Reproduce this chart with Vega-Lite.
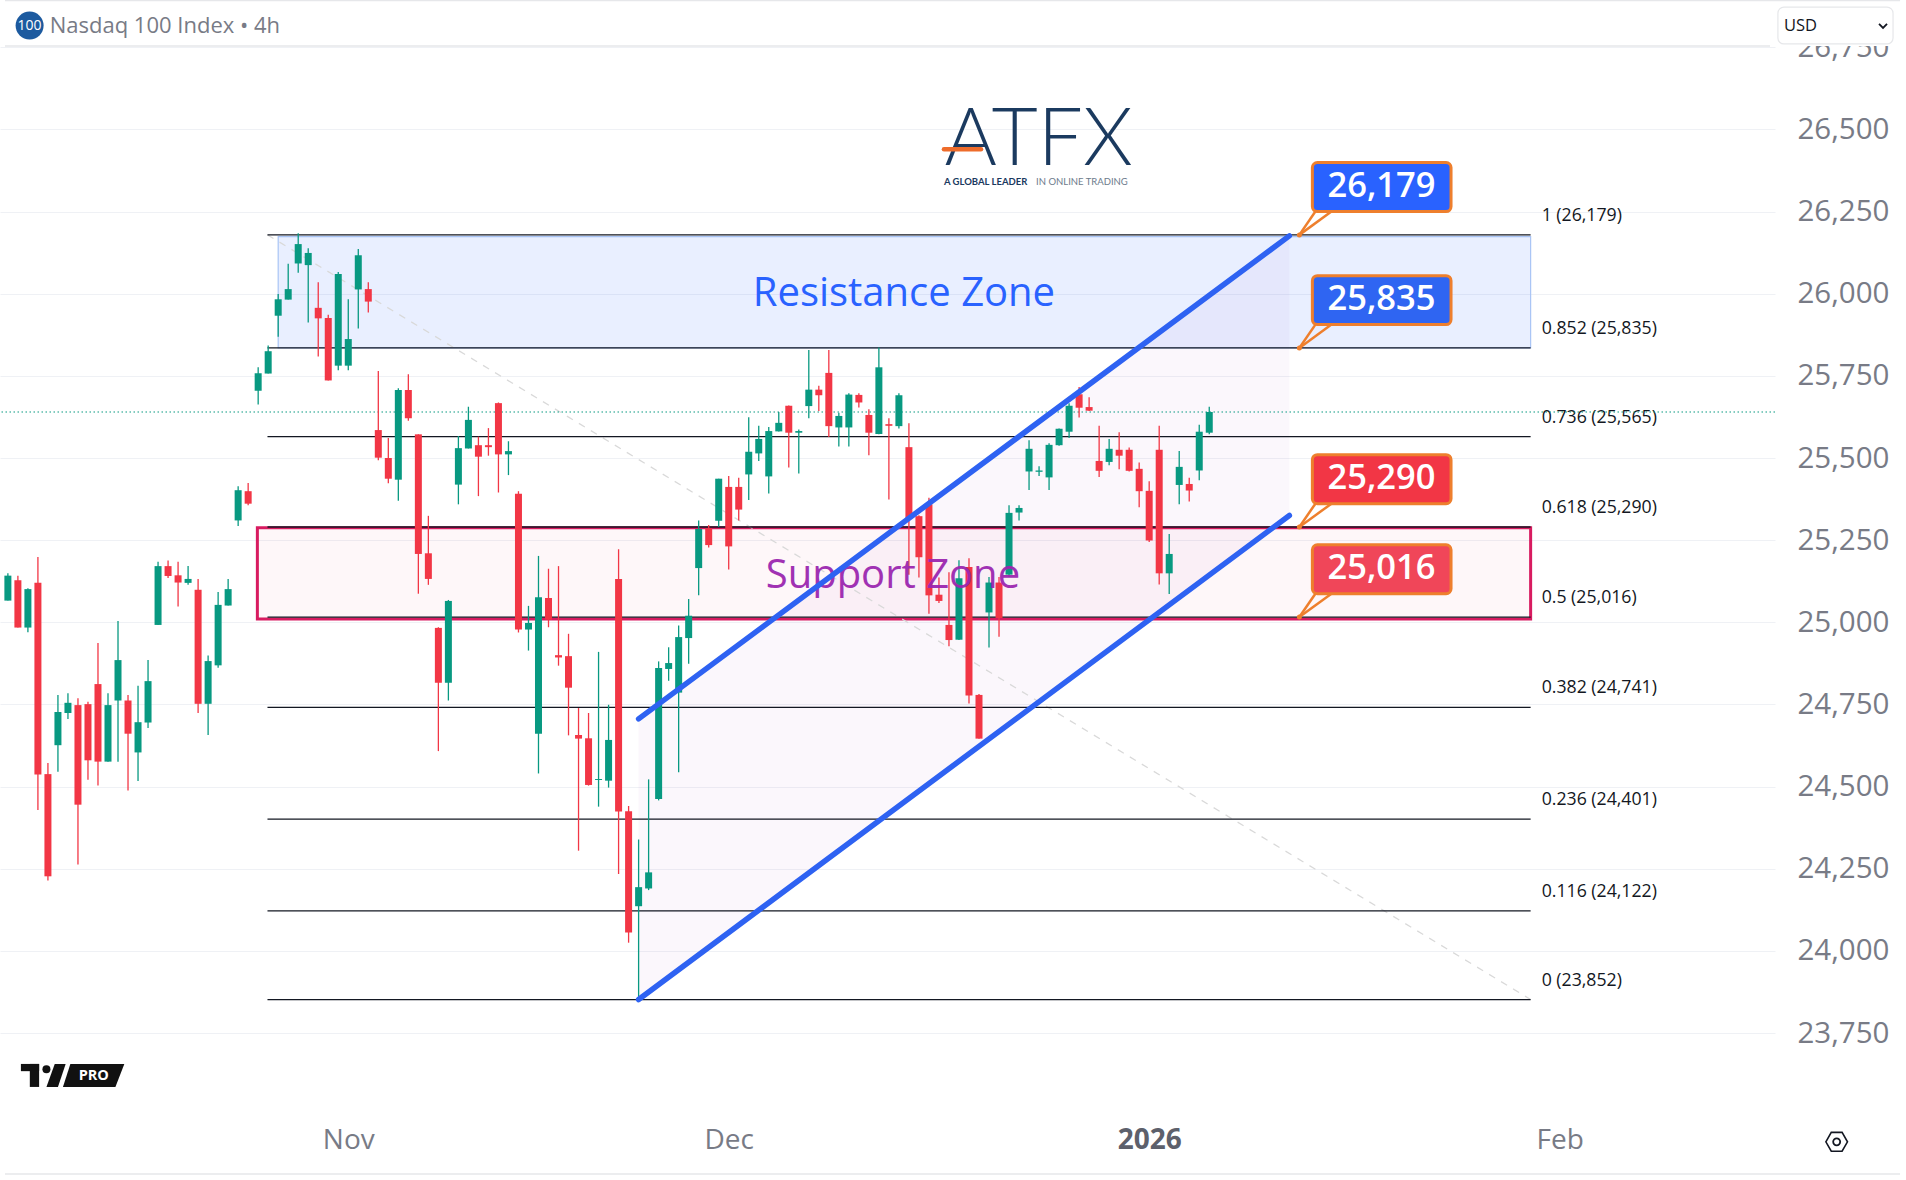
{
  "$schema": "https://vega.github.io/schema/vega-lite/v6.json",
  "width": 1775,
  "height": 1180,
  "autosize": "none",
  "padding": {"left": 0, "top": 0, "right": 131, "bottom": 0},
  "background": "#ffffff",
  "view": {"stroke": null},
  "config": {"font": "Open Sans"},
  "datasets": {
    "candles": [
      {"bar":0,"open":25066,"high":25149,"low":25066,"close":25142},
      {"bar":1,"open":25128,"high":25142,"low":24984,"close":24984},
      {"bar":2,"open":24984,"high":25104,"low":24970,"close":25101},
      {"bar":3,"open":25120,"high":25199,"low":24429,"close":24537},
      {"bar":4,"open":24538,"high":24572,"low":24214,"close":24227},
      {"bar":5,"open":24626,"high":24779,"low":24545,"close":24727},
      {"bar":6,"open":24724,"high":24784,"low":24706,"close":24755},
      {"bar":7,"open":24748,"high":24769,"low":24263,"close":24445},
      {"bar":8,"open":24751,"high":24758,"low":24521,"close":24580},
      {"bar":9,"open":24812,"high":24937,"low":24503,"close":24576},
      {"bar":10,"open":24576,"high":24784,"low":24576,"close":24748},
      {"bar":11,"open":24762,"high":25004,"low":24576,"close":24885},
      {"bar":12,"open":24762,"high":24779,"low":24488,"close":24661},
      {"bar":13,"open":24604,"high":24807,"low":24517,"close":24696},
      {"bar":14,"open":24695,"high":24885,"low":24678,"close":24821},
      {"bar":15,"open":24992,"high":25184,"low":24992,"close":25171},
      {"bar":16,"open":25171,"high":25188,"low":25135,"close":25141},
      {"bar":17,"open":25143,"high":25184,"low":25048,"close":25121},
      {"bar":18,"open":25120,"high":25171,"low":25114,"close":25132},
      {"bar":19,"open":25099,"high":25132,"low":24724,"close":24752},
      {"bar":20,"open":24752,"high":24899,"low":24657,"close":24882},
      {"bar":21,"open":24869,"high":25092,"low":24862,"close":25053},
      {"bar":22,"open":25051,"high":25132,"low":25051,"close":25101},
      {"bar":23,"open":25310,"high":25414,"low":25293,"close":25402},
      {"bar":24,"open":25399,"high":25424,"low":25356,"close":25361},
      {"bar":25,"open":25705,"high":25776,"low":25663,"close":25758},
      {"bar":26,"open":25757,"high":25842,"low":25757,"close":25825},
      {"bar":27,"open":25933,"high":25999,"low":25869,"close":25983},
      {"bar":28,"open":25982,"high":26091,"low":25982,"close":26014},
      {"bar":29,"open":26092,"high":26184,"low":26064,"close":26151},
      {"bar":30,"open":26087,"high":26138,"low":25912,"close":26124},
      {"bar":31,"open":25957,"high":26035,"low":25809,"close":25925},
      {"bar":32,"open":25926,"high":25936,"low":25736,"close":25736},
      {"bar":33,"open":25781,"high":26066,"low":25767,"close":26060},
      {"bar":34,"open":25781,"high":25983,"low":25767,"close":25862},
      {"bar":35,"open":26013,"high":26136,"low":25894,"close":26117},
      {"bar":36,"open":26014,"high":26035,"low":25943,"close":25976},
      {"bar":37,"open":25585,"high":25765,"low":25493,"close":25501},
      {"bar":38,"open":25500,"high":25561,"low":25423,"close":25437},
      {"bar":39,"open":25434,"high":25712,"low":25370,"close":25707},
      {"bar":40,"open":25707,"high":25755,"low":25613,"close":25621},
      {"bar":41,"open":25572,"high":25572,"low":25087,"close":25208},
      {"bar":42,"open":25210,"high":25324,"low":25114,"close":25132},
      {"bar":43,"open":24983,"high":24985,"low":24608,"close":24816},
      {"bar":44,"open":24816,"high":25068,"low":24762,"close":25065},
      {"bar":45,"open":25419,"high":25567,"low":25359,"close":25530},
      {"bar":46,"open":25529,"high":25656,"low":25529,"close":25616},
      {"bar":47,"open":25539,"high":25565,"low":25384,"close":25504},
      {"bar":48,"open":25539,"high":25591,"low":25507,"close":25533},
      {"bar":49,"open":25667,"high":25669,"low":25395,"close":25511},
      {"bar":50,"open":25511,"high":25551,"low":25448,"close":25521},
      {"bar":51,"open":25391,"high":25399,"low":24969,"close":24978},
      {"bar":52,"open":24978,"high":25050,"low":24914,"close":24998},
      {"bar":53,"open":24661,"high":25202,"low":24540,"close":25076},
      {"bar":54,"open":25074,"high":25163,"low":24985,"close":25008},
      {"bar":55,"open":24900,"high":25171,"low":24868,"close":24893},
      {"bar":56,"open":24897,"high":24965,"low":24656,"close":24801},
      {"bar":57,"open":24657,"high":24739,"low":24305,"close":24646},
      {"bar":58,"open":24647,"high":24724,"low":24503,"close":24505},
      {"bar":59,"open":24520,"high":24910,"low":24439,"close":24523},
      {"bar":60,"open":24518,"high":24749,"low":24497,"close":24642},
      {"bar":61,"open":25132,"high":25222,"low":24234,"close":24424},
      {"bar":62,"open":24425,"high":24441,"low":24025,"close":24056},
      {"bar":63,"open":24136,"high":24339,"low":23852,"close":24194},
      {"bar":64,"open":24190,"high":24522,"low":24185,"close":24239},
      {"bar":65,"open":24462,"high":24881,"low":24458,"close":24861},
      {"bar":66,"open":24858,"high":24924,"low":24822,"close":24876},
      {"bar":67,"open":24786,"high":24990,"low":24544,"close":24955},
      {"bar":68,"open":24952,"high":25071,"low":24874,"close":25020},
      {"bar":69,"open":25165,"high":25310,"low":25082,"close":25284},
      {"bar":70,"open":25286,"high":25296,"low":25228,"close":25235},
      {"bar":71,"open":25309,"high":25437,"low":25290,"close":25437},
      {"bar":72,"open":25412,"high":25445,"low":25161,"close":25231},
      {"bar":73,"open":25412,"high":25440,"low":25310,"close":25343},
      {"bar":74,"open":25450,"high":25624,"low":25372,"close":25519},
      {"bar":75,"open":25514,"high":25598,"low":25491,"close":25558},
      {"bar":76,"open":25444,"high":25594,"low":25392,"close":25582},
      {"bar":77,"open":25581,"high":25640,"low":25581,"close":25607},
      {"bar":78,"open":25659,"high":25660,"low":25471,"close":25577},
      {"bar":79,"open":25577,"high":25587,"low":25453,"close":25582},
      {"bar":80,"open":25658,"high":25829,"low":25621,"close":25708},
      {"bar":81,"open":25708,"high":25720,"low":25643,"close":25691},
      {"bar":82,"open":25759,"high":25829,"low":25564,"close":25597},
      {"bar":83,"open":25593,"high":25638,"low":25535,"close":25628},
      {"bar":84,"open":25593,"high":25697,"low":25535,"close":25693},
      {"bar":85,"open":25692,"high":25697,"low":25654,"close":25669},
      {"bar":86,"open":25631,"high":25648,"low":25508,"close":25577},
      {"bar":87,"open":25573,"high":25836,"low":25572,"close":25776},
      {"bar":88,"open":25603,"high":25621,"low":25374,"close":25598},
      {"bar":89,"open":25597,"high":25697,"low":25590,"close":25691},
      {"bar":90,"open":25533,"high":25606,"low":25145,"close":25317},
      {"bar":91,"open":25323,"high":25326,"low":25136,"close":25198},
      {"bar":92,"open":25359,"high":25379,"low":25026,"close":25082},
      {"bar":93,"open":25084,"high":25136,"low":25059,"close":25065},
      {"bar":94,"open":24992,"high":25152,"low":24927,"close":24946},
      {"bar":95,"open":24947,"high":25189,"low":24946,"close":25134},
      {"bar":96,"open":25168,"high":25195,"low":24753,"close":24777},
      {"bar":97,"open":24779,"high":24782,"low":24646,"close":24646},
      {"bar":98,"open":25030,"high":25138,"low":24923,"close":25121},
      {"bar":99,"open":25121,"high":25138,"low":24956,"close":25013},
      {"bar":100,"open":25145,"high":25356,"low":25138,"close":25333},
      {"bar":101,"open":25334,"high":25356,"low":25310,"close":25348},
      {"bar":102,"open":25459,"high":25554,"low":25403,"close":25528},
      {"bar":103,"open":25458,"high":25475,"low":25445,"close":25462},
      {"bar":104,"open":25441,"high":25545,"low":25403,"close":25540},
      {"bar":105,"open":25539,"high":25590,"low":25537,"close":25589},
      {"bar":106,"open":25580,"high":25667,"low":25561,"close":25659},
      {"bar":107,"open":25694,"high":25716,"low":25623,"close":25653},
      {"bar":108,"open":25655,"high":25685,"low":25643,"close":25644},
      {"bar":109,"open":25491,"high":25598,"low":25442,"close":25461},
      {"bar":110,"open":25488,"high":25558,"low":25478,"close":25528},
      {"bar":111,"open":25525,"high":25578,"low":25466,"close":25507},
      {"bar":112,"open":25525,"high":25532,"low":25459,"close":25461},
      {"bar":113,"open":25467,"high":25486,"low":25350,"close":25399},
      {"bar":114,"open":25400,"high":25429,"low":25244,"close":25249},
      {"bar":115,"open":25525,"high":25598,"low":25115,"close":25149},
      {"bar":116,"open":25149,"high":25269,"low":25086,"close":25208},
      {"bar":117,"open":25418,"high":25521,"low":25359,"close":25473},
      {"bar":118,"open":25421,"high":25440,"low":25368,"close":25401},
      {"bar":119,"open":25462,"high":25601,"low":25432,"close":25580},
      {"bar":120,"open":25577,"high":25656,"low":25572,"close":25640}
    ],
    "levels": [
      {"level":26179,"label":"1 (26,179)"},
      {"level":25835,"label":"0.852 (25,835)"},
      {"level":25565,"label":"0.736 (25,565)"},
      {"level":25290,"label":"0.618 (25,290)"},
      {"level":25016,"label":"0.5 (25,016)"},
      {"level":24741,"label":"0.382 (24,741)"},
      {"level":24401,"label":"0.236 (24,401)"},
      {"level":24122,"label":"0.116 (24,122)"},
      {"level":23852,"label":"0 (23,852)"}
    ],
    "callouts": [
      {"level":26179,"label":"26,179","top":26399,"bot":26250},
      {"level":25835,"label":"25,835","top":26055,"bot":25906},
      {"level":25290,"label":"25,290","top":25510,"bot":25361},
      {"level":25016,"label":"25,016","top":25236,"bot":25087}
    ],
    "channel": [
      {"bar":63,"lo":23852,"hi":24706},
      {"bar":128,"lo":25325,"hi":26176}
    ],
    "trend": [
      {"bar":25.93,"price":26179},
      {"bar":152.1,"price":23852}
    ],
    "plaque": [
      {"part":"slash","price":23656,"from":4.68,"to":5.77},
      {"part":"slash","price":23586,"from":3.85,"to":5.0},
      {"part":"pro","price":23656,"from":6.24,"to":11.63},
      {"part":"pro","price":23586,"from":5.5,"to":10.74}
    ]
  },
  "layer": [
    {
      "data": {"values": [{"bar": 0, "price": 25000}]},
      "mark": {"type": "point", "opacity": 0},
      "encoding": {
        "x": {
          "field": "bar", "type": "quantitative",
          "scale": {"domain": [-0.288, 176.01], "nice": false, "zero": false},
          "axis": {
            "title": null, "orient": "bottom", "offset": -54, "grid": false, "domain": false, "ticks": false,
            "values": [34, 72, 114, 155],
            "labelExpr": "datum.value == 34 ? 'Nov' : datum.value == 72 ? 'Dec' : datum.value == 114 ? '2026' : 'Feb'",
            "labelPadding": 0, "labelFontSize": 28, "labelFont": "Open Sans", "labelColor": {"condition": {"test": "datum.value == 114", "value": "#5d606b"}, "value": "#787b86"},
            "labelFontWeight": {"condition": {"test": "datum.value == 114", "value": "bold"}, "value": "normal"}
          }
        },
        "y": {
          "field": "price", "type": "quantitative",
          "scale": {"domain": [23302.8, 26893.8], "nice": false, "zero": false},
          "axis": {
            "title": null, "orient": "right", "grid": true, "gridColor": "#eff1f5", "gridWidth": 1.2, "domain": false, "ticks": false,
            "values": [23750, 24000, 24250, 24500, 24750, 25000, 25250, 25500, 25750, 26000, 26250, 26500, 26750],
            "format": ",d", "labelPadding": 22, "labelFontSize": 29.5, "labelFont": "Open Sans", "labelColor": "#787b86"
          }
        }
      }
    },
    {
      "data": {"name": "channel"},
      "mark": {"type": "area", "color": "#9c27b0", "opacity": 0.04},
      "encoding": {
        "x": {"field": "bar", "type": "quantitative"},
        "y": {"field": "hi", "type": "quantitative"},
        "y2": {"field": "lo"}
      }
    },
    {
      "data": {"values": [{"from": 27.0, "to": 152.1, "top": 26174, "bot": 25835}]},
      "mark": {"type": "rect", "fill": "#2962ff", "fillOpacity": 0.1, "stroke": "#a9c4f5", "strokeWidth": 1.2},
      "encoding": {
        "x": {"field": "from", "type": "quantitative"},
        "x2": {"field": "to"},
        "y": {"field": "top", "type": "quantitative"},
        "y2": {"field": "bot"}
      }
    },
    {
      "data": {"values": [{"from": 24.92, "to": 152.1, "top": 25288, "bot": 25010}]},
      "mark": {"type": "rect", "fill": "#e91e63", "fillOpacity": 0.035, "stroke": "#d81b60", "strokeWidth": 3},
      "encoding": {
        "x": {"field": "from", "type": "quantitative"},
        "x2": {"field": "to"},
        "y": {"field": "top", "type": "quantitative"},
        "y2": {"field": "bot"}
      }
    },
    {
      "data": {"name": "trend"},
      "mark": {"type": "line", "color": "#d9d9d9", "strokeWidth": 1.2, "strokeDash": [7, 7]},
      "encoding": {
        "x": {"field": "bar", "type": "quantitative"},
        "y": {"field": "price", "type": "quantitative"}
      }
    },
    {
      "data": {"name": "levels"},
      "mark": {"type": "rule", "color": "#131722", "strokeWidth": 1.3},
      "encoding": {
        "x": {"datum": 25.93, "type": "quantitative"},
        "x2": {"datum": 152.1},
        "y": {"field": "level", "type": "quantitative"}
      }
    },
    {
      "data": {"name": "levels"},
      "mark": {"type": "text", "align": "left", "baseline": "middle", "dy": -19, "fontSize": 17.7, "font": "Open Sans", "color": "#131722"},
      "encoding": {
        "x": {"datum": 153.2, "type": "quantitative"},
        "y": {"field": "level", "type": "quantitative"},
        "text": {"field": "label"}
      }
    },
    {
      "data": {"values": [{"price": 25640}]},
      "mark": {"type": "rule", "color": "#089981", "strokeWidth": 1.2, "strokeDash": [1.5, 2.5]},
      "encoding": {
        "y": {"field": "price", "type": "quantitative"}
      }
    },
    {
      "data": {"name": "candles"},
      "mark": {"type": "rule", "strokeWidth": 1.3},
      "encoding": {
        "x": {"field": "bar", "type": "quantitative"},
        "y": {"field": "low", "type": "quantitative"},
        "y2": {"field": "high"},
        "color": {"condition": {"test": "datum.open < datum.close", "value": "#089981"}, "value": "#f23645"}
      }
    },
    {
      "data": {"name": "candles"},
      "mark": {"type": "bar", "width": 7, "orient": "vertical"},
      "encoding": {
        "x": {"field": "bar", "type": "quantitative"},
        "y": {"field": "open", "type": "quantitative"},
        "y2": {"field": "close"},
        "color": {"condition": {"test": "datum.open < datum.close", "value": "#089981"}, "value": "#f23645"}
      }
    },
    {
      "data": {"values": [{"bar": 89.5, "price": 26011, "label": "Resistance Zone"}]},
      "mark": {"type": "text", "align": "center", "baseline": "middle", "dy": 3.5, "fontSize": 40, "font": "Open Sans", "color": "#2962ff"},
      "encoding": {
        "x": {"field": "bar", "type": "quantitative"},
        "y": {"field": "price", "type": "quantitative"},
        "text": {"field": "label"}
      }
    },
    {
      "data": {"values": [{"bar": 88.4, "price": 25152, "label": "Support Zone"}]},
      "mark": {"type": "text", "align": "center", "baseline": "middle", "dy": 3.5, "fontSize": 40, "font": "Open Sans", "color": "#9c27b0", "opacity": 0.95},
      "encoding": {
        "x": {"field": "bar", "type": "quantitative"},
        "y": {"field": "price", "type": "quantitative"},
        "text": {"field": "label"}
      }
    },
    {
      "data": {"name": "channel"},
      "mark": {"type": "line", "color": "#2e62f2", "strokeWidth": 5.5, "strokeCap": "round"},
      "encoding": {
        "x": {"field": "bar", "type": "quantitative"},
        "y": {"field": "hi", "type": "quantitative"}
      }
    },
    {
      "data": {"name": "channel"},
      "mark": {"type": "line", "color": "#2e62f2", "strokeWidth": 5.5, "strokeCap": "round"},
      "encoding": {
        "x": {"field": "bar", "type": "quantitative"},
        "y": {"field": "lo", "type": "quantitative"}
      }
    },
    {
      "data": {"name": "callouts"},
      "mark": {"type": "rule", "color": "#ee7f2d", "strokeWidth": 2.5},
      "encoding": {
        "x": {"datum": 129, "type": "quantitative"},
        "x2": {"datum": 130.6},
        "y": {"field": "level", "type": "quantitative"},
        "y2": {"field": "bot"}
      }
    },
    {
      "data": {"name": "callouts"},
      "mark": {"type": "rule", "color": "#ee7f2d", "strokeWidth": 2.5},
      "encoding": {
        "x": {"datum": 129, "type": "quantitative"},
        "x2": {"datum": 132.2},
        "y": {"field": "level", "type": "quantitative"},
        "y2": {"field": "bot"}
      }
    },
    {
      "data": {"name": "callouts"},
      "mark": {"type": "circle", "color": "#ee7f2d", "size": 25, "opacity": 1},
      "encoding": {
        "x": {"datum": 129, "type": "quantitative"},
        "y": {"field": "level", "type": "quantitative"}
      }
    },
    {
      "data": {"name": "callouts"},
      "mark": {"type": "rect", "stroke": "#ee7f2d", "strokeWidth": 3, "cornerRadius": 5},
      "encoding": {
        "x": {"datum": 130.3, "type": "quantitative"},
        "x2": {"datum": 144.15},
        "y": {"field": "top", "type": "quantitative"},
        "y2": {"field": "bot"},
        "fill": {
          "field": "level", "type": "nominal",
          "scale": {"domain": [26179, 25835, 25290, 25016], "range": ["#2962ff", "#2f65f2", "#f23645", "#f04659"]},
          "legend": null
        }
      }
    },
    {
      "data": {"name": "callouts"},
      "mark": {"type": "text", "align": "center", "baseline": "middle", "fontSize": 34.5, "font": "Open Sans", "fontWeight": 600, "color": "#ffffff"},
      "encoding": {
        "x": {"datum": 137.2, "type": "quantitative"},
        "y": {"field": "level", "type": "quantitative"},
        "text": {"field": "label"},
        "yOffset": {"value": -48}
      }
    },
    {
      "data": {"values": [{"label": "ATFX", "bar": 102.96, "price": 26464.7}]},
      "mark": {"type": "text", "align": "center", "baseline": "middle", "fontSize": 80, "font": "Lato", "fontWeight": 300, "color": "#1b3a5f"},
      "encoding": {
        "x": {"field": "bar", "type": "quantitative"},
        "y": {"field": "price", "type": "quantitative"},
        "text": {"field": "label"}
      }
    },
    {
      "data": {"values": [{"from": 93.5, "to": 97.2, "price": 26439.4}]},
      "mark": {"type": "rule", "color": "#ee6c2b", "strokeWidth": 4.5, "strokeCap": "round"},
      "encoding": {
        "x": {"field": "from", "type": "quantitative"},
        "x2": {"field": "to"},
        "y": {"field": "price", "type": "quantitative"}
      }
    },
    {
      "data": {"values": [{"label": "A GLOBAL LEADER", "bar": 93.5, "price": 26341}]},
      "mark": {"type": "text", "align": "left", "baseline": "middle", "fontSize": 9.5, "font": "Lato", "fontWeight": "bold", "letterSpacing": 0.6, "color": "#1b3a5f"},
      "encoding": {
        "x": {"field": "bar", "type": "quantitative"},
        "y": {"field": "price", "type": "quantitative"},
        "text": {"field": "label"}
      }
    },
    {
      "data": {"values": [{"label": "IN ONLINE TRADING", "bar": 102.7, "price": 26341}]},
      "mark": {"type": "text", "align": "left", "baseline": "middle", "fontSize": 9.5, "font": "Lato", "letterSpacing": 0.6, "color": "#6d7b8c"},
      "encoding": {
        "x": {"field": "bar", "type": "quantitative"},
        "y": {"field": "price", "type": "quantitative"},
        "text": {"field": "label"}
      }
    },
    {
      "data": {"values": [{"from": -0.288, "to": 189, "top": 26893.8, "bot": 26754}]},
      "mark": {"type": "rect", "fill": "#ffffff"},
      "encoding": {
        "x": {"field": "from", "type": "quantitative"},
        "x2": {"field": "to"},
        "y": {"field": "top", "type": "quantitative"},
        "y2": {"field": "bot"}
      }
    },
    {
      "data": {"values": [{"price": 26892, "from": -0.288, "to": 189}, {"price": 26754, "from": -0.288, "to": 176.01}, {"price": 23321, "from": -0.288, "to": 189}]},
      "mark": {"type": "rule", "color": "#e6e7ea", "strokeWidth": 1.5},
      "encoding": {
        "x": {"field": "from", "type": "quantitative"},
        "x2": {"field": "to"},
        "y": {"field": "price", "type": "quantitative"}
      }
    },
    {
      "data": {"values": [{"bar": 2.17, "price": 26816}]},
      "mark": {"type": "circle", "color": "#1c5a9f", "size": 784, "opacity": 1},
      "encoding": {
        "x": {"field": "bar", "type": "quantitative"},
        "y": {"field": "price", "type": "quantitative"}
      }
    },
    {
      "data": {"values": [{"bar": 2.17, "price": 26816, "label": "100"}]},
      "mark": {"type": "text", "align": "center", "baseline": "middle", "fontSize": 14, "font": "Open Sans", "color": "#ffffff"},
      "encoding": {
        "x": {"field": "bar", "type": "quantitative"},
        "y": {"field": "price", "type": "quantitative"},
        "text": {"field": "label"}
      }
    },
    {
      "data": {"values": [{"bar": 4.18, "price": 26814.7, "label": "Nasdaq 100 Index • 4h"}]},
      "mark": {"type": "text", "align": "left", "baseline": "middle", "fontSize": 22, "font": "Open Sans", "color": "#787b86"},
      "encoding": {
        "x": {"field": "bar", "type": "quantitative"},
        "y": {"field": "price", "type": "quantitative"},
        "text": {"field": "label"}
      }
    },
    {
      "data": {"values": [{"from": 176.8, "to": 188.3, "top": 26872, "bot": 26760}]},
      "mark": {"type": "rect", "fill": "#ffffff", "stroke": "#e6e7ea", "strokeWidth": 1.2, "cornerRadius": 6},
      "encoding": {
        "x": {"field": "from", "type": "quantitative"},
        "x2": {"field": "to"},
        "y": {"field": "top", "type": "quantitative"},
        "y2": {"field": "bot"}
      }
    },
    {
      "data": {"values": [{"bar": 177.4, "price": 26815, "label": "USD"}]},
      "mark": {"type": "text", "align": "left", "baseline": "middle", "fontSize": 16.5, "font": "Open Sans", "color": "#131722"},
      "encoding": {
        "x": {"field": "bar", "type": "quantitative"},
        "y": {"field": "price", "type": "quantitative"},
        "text": {"field": "label"}
      }
    },
    {
      "data": {"values": [{"bar": 187.3, "price": 26815}]},
      "mark": {"type": "point", "shape": "M-1,-0.5L0,0.5L1,-0.5", "size": 64, "filled": false, "stroke": "#131722", "strokeWidth": 1.8, "opacity": 1},
      "encoding": {
        "x": {"field": "bar", "type": "quantitative"},
        "y": {"field": "price", "type": "quantitative"}
      }
    },
    {
      "data": {"values": [{"from": 1.3, "to": 3.12, "top": 23656, "bot": 23634}, {"from": 2.19, "to": 3.12, "top": 23656, "bot": 23586}]},
      "mark": {"type": "rect", "fill": "#111111"},
      "encoding": {
        "x": {"field": "from", "type": "quantitative"},
        "x2": {"field": "to"},
        "y": {"field": "top", "type": "quantitative"},
        "y2": {"field": "bot"}
      }
    },
    {
      "data": {"values": [{"bar": 3.85, "price": 23640}]},
      "mark": {"type": "circle", "color": "#111111", "size": 64, "opacity": 1},
      "encoding": {
        "x": {"field": "bar", "type": "quantitative"},
        "y": {"field": "price", "type": "quantitative"}
      }
    },
    {
      "data": {"name": "plaque"},
      "mark": {"type": "area", "orient": "horizontal", "color": "#111111"},
      "encoding": {
        "y": {"field": "price", "type": "quantitative"},
        "x": {"field": "from", "type": "quantitative"},
        "x2": {"field": "to"},
        "detail": {"field": "part"}
      }
    },
    {
      "data": {"values": [{"bar": 8.58, "price": 23620, "label": "PRO"}]},
      "mark": {"type": "text", "align": "center", "baseline": "middle", "fontSize": 14.5, "font": "Open Sans", "fontWeight": "bold", "letterSpacing": 1, "color": "#ffffff"},
      "encoding": {
        "x": {"field": "bar", "type": "quantitative"},
        "y": {"field": "price", "type": "quantitative"},
        "text": {"field": "label"}
      }
    },
    {
      "data": {"values": [{"bar": 182.67, "price": 23419}]},
      "mark": {"type": "point", "shape": "M-1,0L-0.5,-0.87L0.5,-0.87L1,0L0.5,0.87L-0.5,0.87Z", "size": 467, "filled": false, "stroke": "#131722", "strokeWidth": 1.6, "opacity": 1},
      "encoding": {
        "x": {"field": "bar", "type": "quantitative"},
        "y": {"field": "price", "type": "quantitative"}
      }
    },
    {
      "data": {"values": [{"bar": 182.67, "price": 23419}]},
      "mark": {"type": "point", "shape": "circle", "size": 49, "filled": false, "stroke": "#131722", "strokeWidth": 1.8, "opacity": 1},
      "encoding": {
        "x": {"field": "bar", "type": "quantitative"},
        "y": {"field": "price", "type": "quantitative"}
      }
    }
  ]
}
